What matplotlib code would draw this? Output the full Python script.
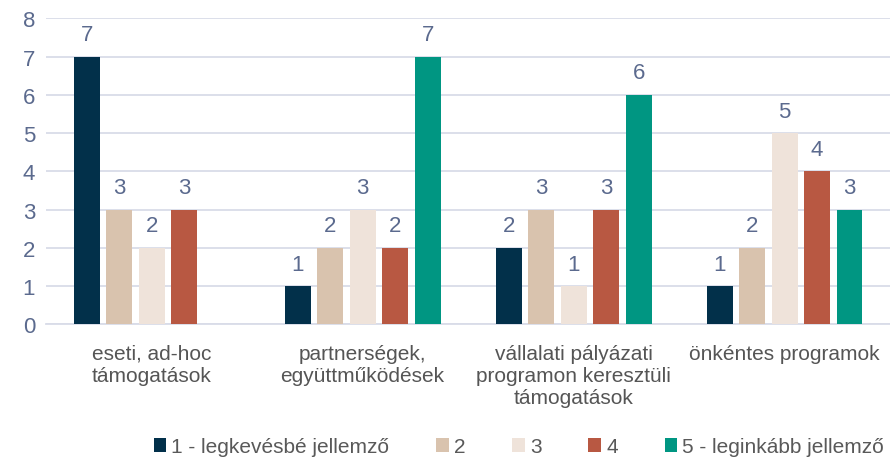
import numpy as np
import matplotlib.pyplot as plt

categories = ["eseti, ad-hoc\ntámogatások",
              "partnerségek,\negyüttműködések",
              "vállalati pályázati\nprogramon keresztüli\ntámogatások",
              "önkéntes programok"]
series_names = ["1 - legkevésbé jellemző", "2", "3", "4", "5 - leginkább jellemző"]
s1 = [7, 1, 2, 1]
s2 = [3, 2, 3, 2]
s3 = [2, 3, 1, 5]
s4 = [3, 2, 3, 4]
s5 = [None, 7, 6, 3]
colors = ["#02304a", "#d9c3ae", "#efe3da", "#b85842", "#009682"]

plt.rcParams['font.family'] = ['Liberation Sans', 'DejaVu Sans']

fig = plt.figure(figsize=(8.9, 4.6), dpi=100)
ax = fig.add_axes([0.052, 0.293, 0.948, 0.665])

x = np.arange(len(categories))
step = 0.154
width = 0.123
label_col = "#5b6a8e"
for i, (vals, name, c) in enumerate(zip([s1, s2, s3, s4, s5], series_names, colors)):
    v = np.array([np.nan if a is None else a for a in vals], dtype=float)
    pos = x + (i - 2) * step
    ax.bar(pos, np.nan_to_num(v), width, color=c, label=name, zorder=3)
    for p, val in zip(pos, v):
        if not np.isnan(val):
            ax.text(p, val + 0.3, f"{int(val)}", ha="center", va="bottom",
                    fontsize=16, color=label_col)

ax.set_xlim(-0.5, 3.5)
ax.set_ylim(0, 8)
ax.set_yticks(range(0, 9))
ax.yaxis.grid(True, color="#d9dce8", linewidth=1.3, zorder=0)
ax.tick_params(axis="y", length=0, labelsize=16, labelcolor=label_col, pad=8)
ax.set_xticks(x)
ax.set_xticklabels(categories, fontsize=15, color="#555555", linespacing=1.2)
ax.tick_params(axis="x", length=0, pad=14)
for s in ["top", "right", "left"]:
    ax.spines[s].set_visible(False)
ax.spines["bottom"].set_color("#d9dce8")
ax.spines["bottom"].set_linewidth(1.3)

fig.legend(loc="lower center", bbox_to_anchor=(0.583, -0.035), ncol=5, frameon=False,
           fontsize=15, handlelength=0.6, handleheight=0.6, handletextpad=0.25,
           columnspacing=2.25, labelcolor="#595959")

fig.savefig("out.png", dpi=100)
